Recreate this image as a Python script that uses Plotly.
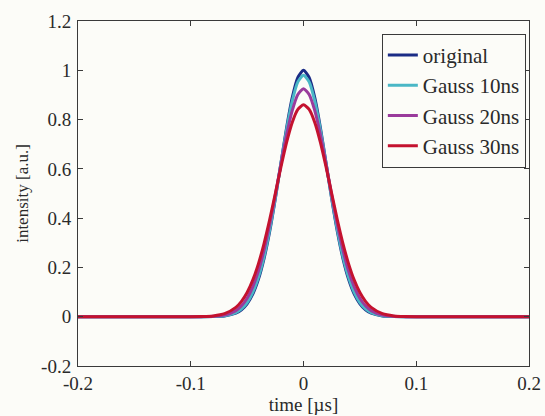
import plotly.graph_objects as go

# time axis samples [µs]
time_us = [-0.2, -0.1, -0.09, -0.08, -0.07, -0.06, -0.055, -0.05, -0.045, -0.04, -0.035, -0.03,
           -0.025, -0.02, -0.015, -0.01, -0.005, 0.0, 0.005, 0.01, 0.015, 0.02, 0.025,
           0.03, 0.035, 0.04, 0.045, 0.05, 0.055, 0.06, 0.07, 0.08, 0.09, 0.1, 0.2]

original = [0, 0, 0.0001, 0.0005, 0.0031, 0.0144, 0.0283, 0.0526, 0.092, 0.152, 0.236, 0.346,
            0.479, 0.624, 0.767, 0.889, 0.971, 1.0, 0.971, 0.889, 0.767, 0.624, 0.479,
            0.346, 0.236, 0.152, 0.092, 0.0526, 0.0283, 0.0144, 0.0031, 0.0005, 0.0001, 0, 0]

gauss10 = [0, 0, 0.0001, 0.0007, 0.0038, 0.0165, 0.0318, 0.0576, 0.0987, 0.160, 0.244, 0.353,
           0.482, 0.623, 0.759, 0.875, 0.953, 0.98, 0.953, 0.875, 0.759, 0.623, 0.482,
           0.353, 0.244, 0.160, 0.0987, 0.0576, 0.0318, 0.0165, 0.0038, 0.0007, 0.0001, 0, 0]

gauss20 = [0, 0, 0.0003, 0.0015, 0.0067, 0.0248, 0.0442, 0.075, 0.121, 0.185, 0.270, 0.374,
           0.4935, 0.619, 0.738, 0.836, 0.902, 0.925, 0.902, 0.836, 0.738, 0.619, 0.4935,
           0.374, 0.270, 0.185, 0.121, 0.075, 0.0442, 0.0248, 0.0067, 0.0015, 0.0003, 0, 0]

gauss30 = [0, 0.0002, 0.0008, 0.0033, 0.0122, 0.0378, 0.0623, 0.0982, 0.1483, 0.2145, 0.297, 0.3937,
           0.500, 0.6078, 0.7074, 0.7885, 0.8415, 0.86, 0.8415, 0.7885, 0.7074, 0.6078, 0.500,
           0.3937, 0.297, 0.2145, 0.1483, 0.0982, 0.0623, 0.0378, 0.0122, 0.0033, 0.0008, 0.0002, 0]

series_names = ["original", "Gauss 10ns", "Gauss 20ns", "Gauss 30ns"]
series_colors = ["#1b2c86", "#4ab7c6", "#9a3b9c", "#c4122f"]

x_tickvals = [-0.2, -0.1, 0, 0.1, 0.2]
x_ticktext = ["-0.2", "-0.1", "0", "0.1", "0.2"]
y_tickvals = [-0.2, 0, 0.2, 0.4, 0.6, 0.8, 1.0, 1.2]
y_ticktext = ["-0.2", "0", "0.2", "0.4", "0.6", "0.8", "1", "1.2"]

FONT = "Liberation Serif"
TXT = "#2a2a2a"

fig = go.Figure()
for name, ys, col in zip(series_names, [original, gauss10, gauss20, gauss30], series_colors):
    fig.add_trace(go.Scatter(x=time_us, y=ys, mode="lines", name=name,
                             line=dict(color=col, width=3, shape="spline", smoothing=0.6)))

axis_common = dict(showgrid=False, zeroline=False, showline=True, linecolor="#3a3a3a",
                   linewidth=1, mirror="ticks", ticks="inside", ticklen=5, tickcolor="#3a3a3a",
                   automargin=False,
                   tickfont=dict(family=FONT, size=19, color=TXT))

fig.update_xaxes(range=[-0.2, 0.2], tickvals=x_tickvals, ticktext=x_ticktext,
                 ticklabelstandoff=0,
                 title=dict(text="time [µs]", font=dict(family=FONT, size=19, color=TXT),
                            standoff=4),
                 **axis_common)
fig.update_yaxes(range=[-0.2, 1.2], tickvals=y_tickvals, ticktext=y_ticktext,
                 title=dict(text="intensity [a.u.]", font=dict(family=FONT, size=17, color=TXT),
                            standoff=8),
                 ticklabelstandoff=2,
                 **axis_common)

fig.update_layout(
    width=545, height=416,
    margin=dict(l=78, r=16, t=21, b=50),
    paper_bgcolor="#fcfcf8", plot_bgcolor="#fcfcf8",
    font=dict(family=FONT),
    showlegend=True,
    legend=dict(x=0.993, y=0.963, xanchor="right", yanchor="top",
                bgcolor="#fcfcf8", bordercolor="#3a3a3a", borderwidth=1,
                font=dict(family=FONT, size=21, color=TXT),
                tracegroupgap=0, itemwidth=30),
)

fig.write_html("out.html")
